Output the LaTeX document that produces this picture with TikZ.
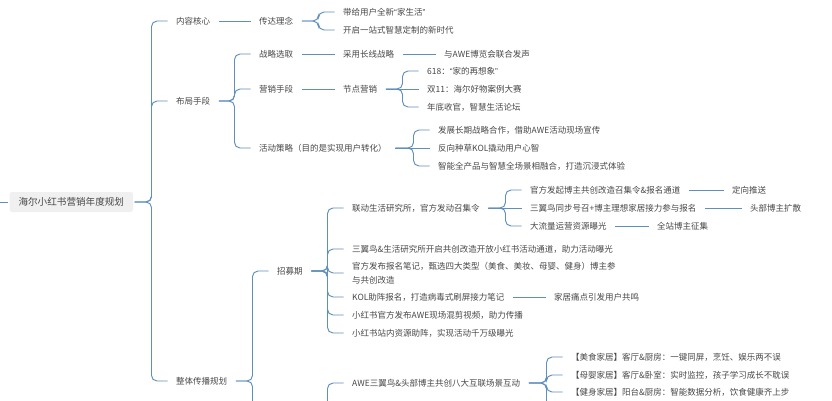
\documentclass[tikz,border=0pt]{standalone}
\usepackage{fontspec}
\setmainfont{Noto Sans CJK SC}
\newfontfamily\latq{Liberation Sans}
\begin{document}
\begin{tikzpicture}[x=1pt,y=-1pt,
  item/.style={anchor=west,inner xsep=8.5pt,inner ysep=1pt,text height=7.5pt,text depth=1.5pt,font=\fontsize{8.5}{14}\selectfont,text=black!72,align=left},
  twoline/.style={text height={},text depth={}},
  rootbox/.style={anchor=west,inner xsep=9pt,minimum height=20pt,fill=black!6,rounded corners=2.5pt,font=\fontsize{9.6}{12}\selectfont,text=black!72,outer xsep=1.5pt},
  lnk/.style={draw=lc,line width=0.95pt,rounded corners=5.5pt}]
\definecolor{lc}{HTML}{5F8FBC}
\useasboundingbox (0,0) rectangle (832,400);
\clip (0,0) rectangle (832,400);
\newcommand\lnk[2]{\draw[lnk] (#1.east) -- ([xshift=-16pt]#2.west |- #1.east) -- ([xshift=-16pt]#2.west) -- (#2.west);}
\newcommand\slnk[2]{\draw[lnk] (#1.east) -- (#2.west);}
\coordinate (rin) at (0,202);
\node[rootbox] (root) at (8,202) {海尔小红书营销年度规划};
\draw[lnk] (rin) -- (root.west);
% level 1
\node[item] (a) at (167.5,21) {内容核心};
\node[item] (b) at (167.5,101) {布局手段};
\node[item] (c) at (167.5,381) {整体传播规划};
\lnk{root}{a}\lnk{root}{b}\lnk{root}{c}
% content core
\node[item] (a1) at (250.5,21) {传达理念};
\slnk{a}{a1}
\node[item] (a11) at (334.5,12) {带给用户全新{\latq “}家生活{\latq ”}};
\node[item] (a12) at (334.5,30) {开启一站式智慧定制的新时代};
\lnk{a1}{a11}\lnk{a1}{a12}
% layout
\node[item] (b1) at (250.5,54) {战略选取};
\node[item] (b2) at (250.5,89) {营销手段};
\node[item] (b3) at (250.5,148) {活动策略（目的是实现用户转化）};
\lnk{b}{b1}\lnk{b}{b2}\lnk{b}{b3}
\node[item] (b11) at (334.5,54) {采用长线战略};
\node[item] (b111) at (435.5,54) {与AWE博览会联合发声};
\slnk{b1}{b11}\slnk{b11}{b111}
\node[item] (b21) at (334.5,89) {节点营销};
\slnk{b2}{b21}
\node[item] (b211) at (418.5,71) {618：{\latq “}家的再想象{\latq ”}};
\node[item] (b212) at (418.5,89) {双11：海尔好物案例大赛};
\node[item] (b213) at (418.5,107) {年底收官，智慧生活论坛};
\lnk{b21}{b211}\slnk{b21}{b212}\lnk{b21}{b213}
\node[item] (b31) at (429.5,130) {发展长期战略合作，借助AWE活动现场宣传};
\node[item] (b32) at (429.5,148) {反向种草KOL撬动用户心智};
\node[item] (b33) at (429.5,166) {智能全产品与智慧全场景相融合，打造沉浸式体验};
\lnk{b3}{b31}\slnk{b3}{b32}\lnk{b3}{b33}
% overall
\node[item] (c1) at (268.5,271) {招募期};
\coordinate (c2) at (268.5,430);
\lnk{c}{c1}
\draw[lnk] (c.east) -- ([xshift=-16pt]c2 |- c.east) -- ([xshift=-16pt]c2) -- (c2);
\node[item] (d1) at (343.5,208) {联动生活研究所，官方发动召集令};
\node[item] (d2) at (343.5,249) {三翼鸟\&生活研究所开启共创改造开放小红书活动通道，助力活动曝光};
\node[item,twoline] (d3) at (343.5,273) {官方发布报名笔记，甄选四大类型（美食、美妆、母婴、健身）博主参\\与共创改造};
\node[item] (d4) at (343.5,297) {KOL助阵报名，打造病毒式刷屏接力笔记};
\node[item] (d5) at (343.5,315) {小红书官方发布AWE现场混剪视频，助力传播};
\node[item] (d6) at (343.5,333) {小红书站内资源助阵，实现活动千万级曝光};
\lnk{c1}{d1}\lnk{c1}{d2}\lnk{c1}{d3}\lnk{c1}{d4}\lnk{c1}{d5}\lnk{c1}{d6}
\node[item] (d41) at (545.5,297) {家居痛点引发用户共鸣};
\slnk{d4}{d41}
\node[item] (e1) at (521.5,190) {官方发起博主共创改造召集令\&报名通道};
\node[item] (e2) at (521.5,208) {三翼鸟同步号召+博主理想家居接力参与报名};
\node[item] (e3) at (521.5,226) {大流量运营资源曝光};
\lnk{d1}{e1}\slnk{d1}{e2}\lnk{d1}{e3}
\node[item] (f1) at (723.5,190) {定向推送};
\node[item] (f2) at (741.5,208) {头部博主扩散};
\node[item] (f3) at (648.5,226) {全站博主征集};
\slnk{e1}{f1}\slnk{e2}{f2}\slnk{e3}{f3}
% lower branch
\node[item] (g) at (343.5,383) {AWE三翼鸟\&头部博主共创八大互联场景互动};
\coordinate (cout) at (310,440);
\draw[lnk] (cout) -- ([xshift=-16pt]g.west |- cout) -- ([xshift=-16pt]g.west) -- (g.west);
\node[item] (g1) at (562.5,357) {【美食家居】客厅\&厨房：一键同屏，烹饪、娱乐两不误};
\node[item] (g2) at (562.5,375) {【母婴家居】客厅\&卧室：实时监控，孩子学习成长不耽误};
\node[item] (g3) at (562.5,392) {【健身家居】阳台\&厨房：智能数据分析，饮食健康齐上步};
\coordinate (g4) at (562.5,430);
\lnk{g}{g1}\lnk{g}{g2}\lnk{g}{g3}
\draw[lnk] (g.east) -- ([xshift=-16pt]g1.west |- g.east) -- ([xshift=-16pt]g4) -- (g4);
\end{tikzpicture}
\end{document}
